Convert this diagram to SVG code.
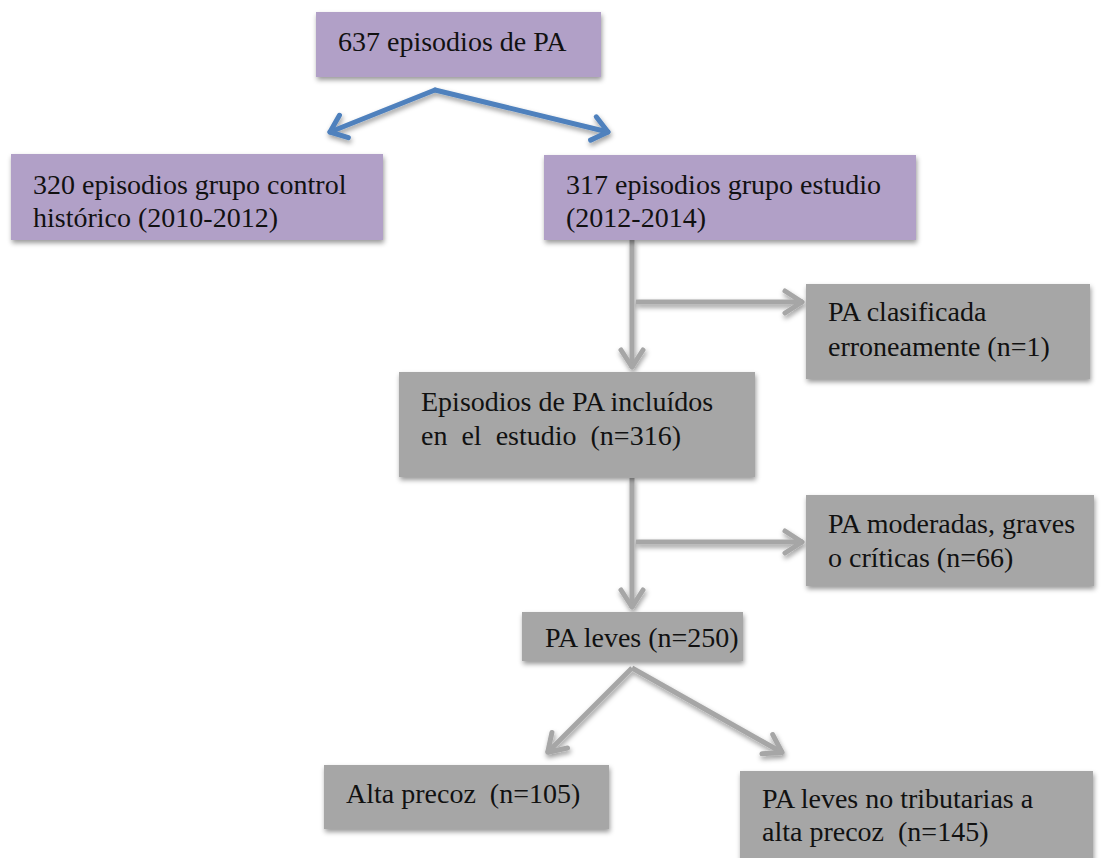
<svg xmlns="http://www.w3.org/2000/svg" width="1102" height="858" viewBox="0 0 1102 858">
<style>
.p{fill:#B1A0C7}
.g{fill:#A6A6A6}
text{font-family:"Liberation Serif","Times New Roman",serif;font-size:28px;fill:#111}
.cb{stroke:#4F81BD;stroke-width:5;fill:none;stroke-linecap:round}
.cg{stroke:#A6A6A6;stroke-width:5;fill:none}
</style>
<defs>
<filter id="sh" x="-10%" y="-10%" width="120%" height="140%">
<feDropShadow dx="1" dy="3" stdDeviation="2.5" flood-color="#000" flood-opacity="0.4"/>
</filter>
<marker id="ab" markerUnits="userSpaceOnUse" markerWidth="40" markerHeight="40" viewBox="-20 -20 40 40" refX="0" refY="0" orient="auto">
<path d="M-15,-12 L0,0 L-15,12" fill="none" stroke="#4F81BD" stroke-width="5" stroke-linecap="round" stroke-linejoin="round"/>
</marker>
<marker id="ag" markerUnits="userSpaceOnUse" markerWidth="40" markerHeight="40" viewBox="-25 -20 40 40" refX="0" refY="0" orient="auto">
<path d="M-18,-11 L-1,0 L-18,11" fill="none" stroke="#A6A6A6" stroke-width="5" stroke-linecap="round" stroke-linejoin="round"/>
</marker>
</defs>
<rect width="1102" height="858" fill="#fff"/>
<g id="connectors" filter="url(#sh)">
<line class="cb" x1="435" y1="90" x2="330" y2="132" marker-end="url(#ab)"/>
<line class="cb" x1="435" y1="90" x2="608" y2="132" marker-end="url(#ab)"/>
<line class="cg" x1="632" y1="240" x2="632" y2="368" marker-end="url(#ag)"/>
<line class="cg" x1="636" y1="302" x2="803" y2="302" marker-end="url(#ag)"/>
<line class="cg" x1="632" y1="478" x2="632" y2="608" marker-end="url(#ag)"/>
<line class="cg" x1="636" y1="542" x2="803" y2="542" marker-end="url(#ag)"/>
<line class="cg" x1="632" y1="668" x2="547" y2="753" marker-end="url(#ag)"/>
<line class="cg" x1="632" y1="668" x2="783" y2="753" marker-end="url(#ag)"/>
</g>
<g id="n1"><rect class="p" x="316" y="12" width="285" height="65" filter="url(#sh)"/><text x="338" y="51">637 episodios de PA</text></g>
<g id="n2"><rect class="p" x="11" y="154" width="372" height="86" filter="url(#sh)"/><text x="33" y="194">320 episodios grupo control</text><text x="33" y="227">histórico (2010-2012)</text></g>
<g id="n3"><rect class="p" x="544" y="155" width="372" height="85" filter="url(#sh)"/><text x="566" y="194">317 episodios grupo estudio</text><text x="566" y="227">(2012-2014)</text></g>
<g id="n4"><rect class="g" x="806" y="284" width="284" height="95" filter="url(#sh)"/><text x="828" y="321">PA clasificada</text><text x="828" y="356">erroneamente (n=1)</text></g>
<g id="n5"><rect class="g" x="399" y="372" width="356" height="105" filter="url(#sh)"/><text x="421" y="411">Episodios de PA incluídos</text><text x="421" y="445" xml:space="preserve">en  el  estudio  (n=316)</text></g>
<g id="n6"><rect class="g" x="806" y="495" width="288" height="91" filter="url(#sh)"/><text x="828" y="533">PA moderadas, graves</text><text x="828" y="567">o críticas (n=66)</text></g>
<g id="n7"><rect class="g" x="522" y="612" width="221" height="49" filter="url(#sh)"/><text x="545" y="647">PA leves (n=250)</text></g>
<g id="n8"><rect class="g" x="324" y="765" width="285" height="64" filter="url(#sh)"/><text x="346" y="803" xml:space="preserve">Alta precoz  (n=105)</text></g>
<g id="n9"><rect class="g" x="740" y="771" width="353" height="92" filter="url(#sh)"/><text x="762" y="808">PA leves no tributarias a</text><text x="762" y="841" xml:space="preserve">alta precoz  (n=145)</text></g>
</svg>
